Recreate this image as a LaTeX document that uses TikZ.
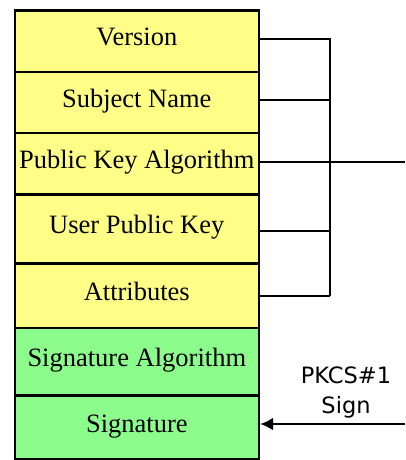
\documentclass[tikz,border=0pt]{standalone}
\usepackage{fontspec}
\setmainfont{Liberation Serif}
\newfontfamily\labelfont{DejaVu Sans}
\usetikzlibrary{arrows.meta}
\definecolor{yel}{HTML}{FFFF88}
\definecolor{grn}{HTML}{8CFC8C}
\begin{document}
\begin{tikzpicture}[x=1pt,y=-1pt,
  field/.style={draw=black, line width=2.6pt, minimum width=244pt, inner sep=0pt, font=\fontsize{26.5}{30}\selectfont, text depth=8pt, anchor=north west},
  conn/.style={line width=2.6pt, black}]
\useasboundingbox (0,0) rectangle (405,460);
\node[field, fill=yel, minimum height=61.7pt] (v) at (13.5,9) {Version};
\node[field, fill=yel, minimum height=61pt] (s) at (13.5,70.7) {Subject Name};
\node[field, fill=yel, minimum height=61.3pt] (p) at (13.5,131.7) {Public Key Algorithm};
\node[field, fill=yel, minimum height=69pt] (u) at (13.5,193) {User Public Key};
\node[field, fill=yel, minimum height=64.7pt] (a) at (13.5,262) {Attributes};
\node[field, fill=grn, minimum height=67.3pt] (sa) at (13.5,326.7) {Signature Algorithm};
\node[field, fill=grn, minimum height=64pt] (sg) at (13.5,394) {Signature};
\coordinate (top) at (330,39);
\coordinate (bot) at (330,296);
\coordinate (outr) at (405,162);
\coordinate (inr) at (405,424);
\draw[conn] (v.east |- top) -- (top) -- (bot);
\draw[conn] (s.east |- 0,100) -- (330,100);
\draw[conn] (p.east |- outr) -- (outr);
\draw[conn] (u.east |- 0,231) -- (330,231);
\draw[conn] (a.east |- bot) -- (bot);
\draw[conn, -{Latex[length=13pt,width=13pt]}] (inr) -- (sg.east |- inr);
\node[font=\labelfont\fontsize{22.5}{30}\selectfont, align=center] (pk) at (346,392) {PKCS\#1\\Sign};
\end{tikzpicture}
\end{document}
